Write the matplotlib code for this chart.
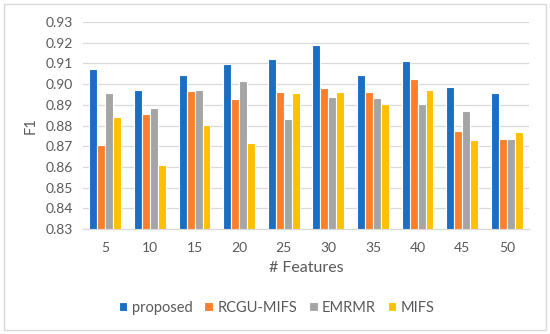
import matplotlib
matplotlib.use("Agg")
import matplotlib.pyplot as plt
import numpy as np
from matplotlib.patches import Rectangle

features = ["5", "10", "15", "20", "25", "30", "35", "40", "45", "50"]
proposed = [0.9075, 0.8970, 0.9044, 0.9098, 0.9120, 0.9188, 0.9046, 0.9114, 0.8985, 0.8958]
rcgu_mifs = [0.8707, 0.8858, 0.8966, 0.8927, 0.8962, 0.8982, 0.8960, 0.9026, 0.8773, 0.8737]
emrmr = [0.8955, 0.8885, 0.8970, 0.9015, 0.8833, 0.8940, 0.8932, 0.8906, 0.8870, 0.8735]
mifs = [0.8843, 0.8610, 0.8803, 0.8717, 0.8958, 0.8962, 0.8904, 0.8974, 0.8732, 0.8770]
series_names = ["proposed", "RCGU-MIFS", "EMRMR", "MIFS"]
yticks = [0.83, 0.84, 0.85, 0.86, 0.87, 0.88, 0.89, 0.90, 0.91, 0.92, 0.93]

colors = ["#1a6ec4", "#fd7f2c", "#a5a5a5", "#ffc000"]
plt.rcParams['font.family'] = ['Lato', 'DejaVu Sans']

fig = plt.figure(figsize=(5.5, 3.34), dpi=100)
ax = fig.add_axes([0.151, 0.314, 0.811, 0.62])

x = np.arange(len(features))
w = 0.178
data = [proposed, rcgu_mifs, emrmr, mifs]
for i, (vals, name, c) in enumerate(zip(data, series_names, colors)):
    ax.bar(x + (i - 1.5) * w, np.array(vals) - 0.83, bottom=0.83, width=w,
           color=c, edgecolor="white", linewidth=0.8, label=name, zorder=3)

ax.set_ylim(0.83, 0.93)
ax.set_xlim(-0.5, len(features) - 0.5)
ax.set_yticks(yticks)
ax.set_yticklabels([f"{v:.2f}" for v in yticks])
ax.set_xticks(x)
ax.set_xticklabels(features)
ax.grid(axis="y", color="#d9d9d9", linewidth=0.9, zorder=0)
for s in ["top", "right", "left"]:
    ax.spines[s].set_visible(False)
ax.spines["bottom"].set_color("#d9d9d9")
ax.spines["bottom"].set_linewidth(0.9)
ax.tick_params(axis="both", length=0, colors="#595959", labelsize=10)
ax.tick_params(axis="x", pad=9)
ax.tick_params(axis="y", pad=7)
ax.set_xlabel("# Features", color="#595959", fontsize=11.5, labelpad=5)
ax.set_ylabel("F1", color="#595959", fontsize=10.5, labelpad=6)

leg = fig.legend(loc="center", bbox_to_anchor=(0.503, 0.078), ncol=4, frameon=False,
                 fontsize=10.5, handlelength=0.6, handleheight=0.6, handletextpad=0.3,
                 columnspacing=0.8)
for t in leg.get_texts():
    t.set_color("#595959")

fig.patches.append(Rectangle((0.008, 0.012), 0.984, 0.976, transform=fig.transFigure,
                             fill=False, edgecolor="#d9d9d9", linewidth=1.0))

fig.savefig("out.png", dpi=100, facecolor="white")
